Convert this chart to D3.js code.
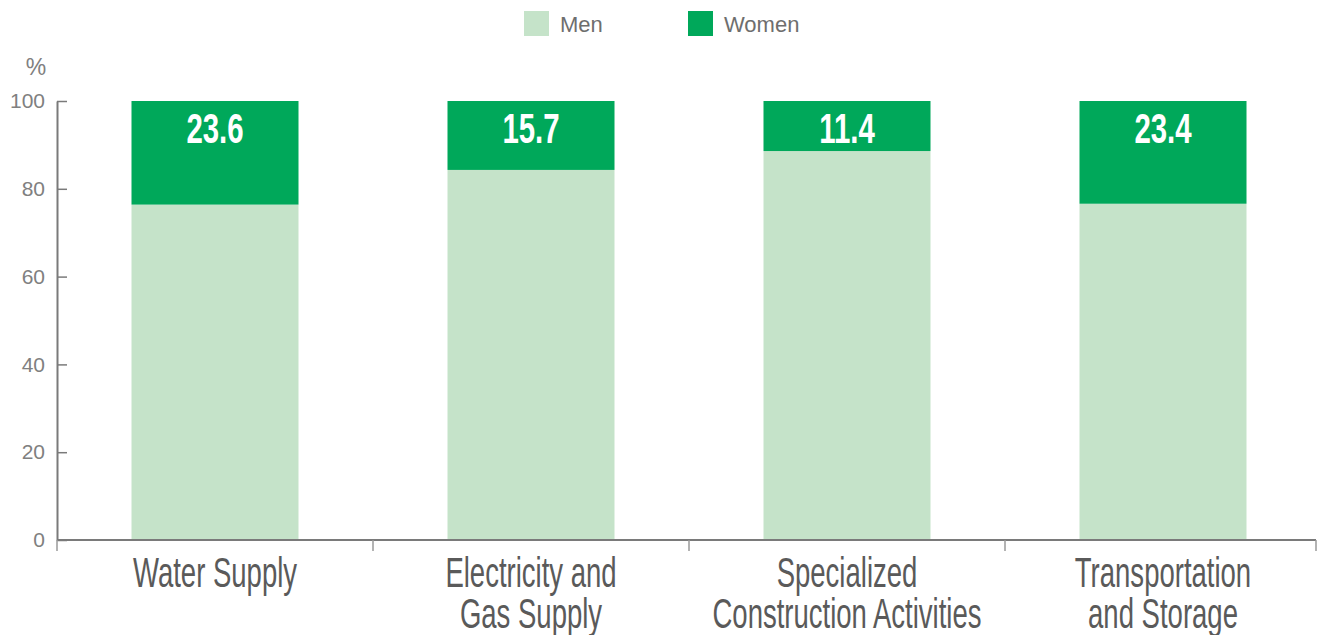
<!DOCTYPE html>
<html><head><meta charset="utf-8">
<script src="https://cdn.jsdelivr.net/npm/d3@7"></script>
<style>body{margin:0;background:#fff}svg{display:block}</style>
</head><body>
<svg id="c" width="1327" height="635"></svg>
<script>
const categories = [["Water Supply"], ["Electricity and", "Gas Supply"], ["Specialized", "Construction Activities"], ["Transportation", "and Storage"]];
const women = [23.6, 15.7, 11.4, 23.4];
const men = [76.4, 84.3, 88.6, 76.6];
const yTicks = [0, 20, 40, 60, 80, 100];
const series = ["Men", "Women"];
const colors = {Men: "#c5e3c9", Women: "#00a85a"};

const svg = d3.select("#c");
const keys = categories.map(c => c.join(" "));
const x = d3.scaleBand().domain(keys).range([57, 1321]).paddingInner(0.4715).paddingOuter(0.4715/2);
const y = d3.scaleLinear().domain([0, 100]).range([540, 101]);

const data = keys.map((k, i) => ({key: k, Men: men[i], Women: women[i]}));
const stacked = d3.stack().keys(series)(data);

svg.append("g").selectAll("g").data(stacked).join("g")
  .attr("fill", d => colors[d.key])
  .selectAll("rect").data(d => d).join("rect")
  .attr("x", d => x(d.data.key))
  .attr("width", x.bandwidth())
  .attr("y", d => y(d[1]))
  .attr("height", d => y(d[0]) - y(d[1]));

// value labels
svg.append("g").selectAll("text").data(data).join("text")
  .attr("transform", d => `translate(${x(d.key) + x.bandwidth()/2},${y(100) + 42}) scale(0.7,1)`)
  .attr("text-anchor", "middle")
  .attr("font-family", "Liberation Sans, Arial, sans-serif")
  .attr("font-weight", "bold")
  .attr("font-size", 42)
  .attr("fill", "#fff")
  .text(d => d.Women.toFixed(1));

// y axis
const yAxis = svg.append("g").attr("transform", "translate(57,0)")
  .call(d3.axisLeft(y).tickValues(yTicks).tickSize(-10).tickPadding(12).tickSizeOuter(0));
yAxis.select(".domain").attr("stroke", "#7a7a7a").attr("stroke-width", 2);
yAxis.selectAll(".tick line").attr("stroke", "#7a7a7a").attr("stroke-width", 1.5);
yAxis.selectAll("text").attr("font-family", "Liberation Sans, Arial, sans-serif").attr("font-size", 21).attr("fill", "#808080");

svg.append("text").attr("x", 36).attr("y", 75).attr("text-anchor", "middle")
  .attr("font-family", "Liberation Sans, Arial, sans-serif").attr("font-size", 23).attr("fill", "#808080").text("%");

// x axis
const [r0, r1] = x.range();
svg.append("line").attr("x1", r0).attr("x2", r1 - 5).attr("y1", y(0)).attr("y2", y(0))
  .attr("stroke", "#7a7a7a").attr("stroke-width", 2);
const bounds = d3.range(keys.length + 1).map(i => r0 + i * x.step() - (i === keys.length ? 5 : 0));
svg.append("g").selectAll("line").data(bounds).join("line")
  .attr("x1", d => d).attr("x2", d => d).attr("y1", y(0)).attr("y2", y(0) + 11)
  .attr("stroke", "#9a9a9a").attr("stroke-width", 1.5);

const xl = svg.append("g").selectAll("text").data(categories).join("text")
  .attr("transform", (d, i) => `translate(${x(keys[i]) + x.bandwidth()/2},587) scale(0.64,1)`)
  .attr("text-anchor", "middle")
  .attr("font-family", "Liberation Sans, Arial, sans-serif")
  .attr("font-size", 43)
  .attr("fill", "#5a5a5a");
xl.selectAll("tspan").data(d => d).join("tspan")
  .attr("x", 0).attr("dy", (d, i) => i === 0 ? 0 : 41).text(d => d);

// legend
const legX = [524, 688];
const leg = svg.append("g").selectAll("g").data(series).join("g")
  .attr("transform", (d, i) => `translate(${legX[i]},11)`);
leg.append("rect").attr("width", 25).attr("height", 25).attr("fill", d => colors[d]);
leg.append("text").attr("x", 36).attr("y", 21)
  .attr("font-family", "Liberation Sans, Arial, sans-serif").attr("font-size", 22).attr("fill", "#6e6e6e").text(d => d);
</script>
</body></html>
